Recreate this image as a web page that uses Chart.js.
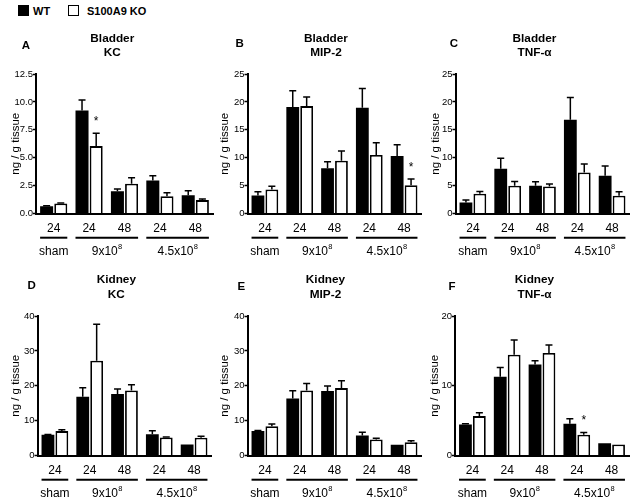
<!DOCTYPE html>
<html><head><meta charset="utf-8">
<script src="https://cdn.jsdelivr.net/npm/chart.js@4.4.1/dist/chart.umd.min.js"></script>
<style>
body{margin:0;background:#fff;}
#wrap{position:relative;width:634px;height:501px;overflow:hidden;font-family:"Liberation Sans",Arial,sans-serif;background:#fff;}
canvas{position:absolute;}
.lg-box{position:absolute;box-sizing:border-box;}
.lg-txt{position:absolute;font-weight:bold;font-size:11px;line-height:12px;color:#000;white-space:nowrap;}
</style></head><body>
<div id="wrap">
  <div class="lg-box" style="left:18px;top:5px;width:11px;height:11px;background:#000;"></div>
  <div class="lg-txt" id="lg0" style="left:33px;top:5px;"></div>
  <div class="lg-box" style="left:68px;top:5px;width:11px;height:11px;background:#fff;border:1.6px solid #000;"></div>
  <div class="lg-txt" id="lg1" style="left:87px;top:5px;"></div>
</div>
<script>
// ---------- shared categories ----------
const seriesNames = ['WT', 'S100A9 KO'];
const timeLabels = ['24', '24', '48', '24', '48'];
const groupLabels = ['sham', '9x10', '4.5x10'];
const groupSuper = ['', '8', '8'];
const groupOfCategory = [0, 1, 1, 2, 2];

// ---------- A: Bladder KC ----------
const bladderKC_WT = [0.66, 9.24, 2.0, 2.96, 1.64];
const bladderKC_WT_sem = [0.04, 0.93, 0.2, 0.42, 0.39];
const bladderKC_KO = [0.9, 6.04, 2.66, 1.55, 1.2];
const bladderKC_KO_sem = [0.05, 1.14, 0.54, 0.3, 0.1];
const bladderKC_KO_sig = [0, 1, 0, 0, 0];

// ---------- B: Bladder MIP-2 ----------
const bladderMIP_WT = [3.23, 19.1, 8.13, 18.96, 10.3];
const bladderMIP_WT_sem = [0.67, 2.9, 1.14, 3.44, 2.0];
const bladderMIP_KO = [4.3, 19.25, 9.45, 10.5, 5.08];
const bladderMIP_KO_sem = [0.6, 1.65, 1.75, 2.2, 1.12];
const bladderMIP_KO_sig = [0, 0, 0, 0, 1];

// ---------- C: Bladder TNF-α ----------
const bladderTNF_WT = [1.97, 8.0, 4.96, 16.8, 6.76];
const bladderTNF_WT_sem = [0.43, 1.9, 0.72, 4.0, 1.74];
const bladderTNF_KO = [3.53, 4.96, 4.84, 7.36, 3.17];
const bladderTNF_KO_sem = [0.42, 0.78, 0.46, 1.49, 0.73];
const bladderTNF_KO_sig = [0, 0, 0, 0, 0];

// ---------- D: Kidney KC ----------
const kidneyKC_WT = [5.93, 16.84, 17.6, 6.12, 3.16];
const kidneyKC_WT_sem = [0.07, 2.56, 1.5, 0.96, 0];
const kidneyKC_KO = [6.99, 27.2, 18.66, 5.17, 5.07];
const kidneyKC_KO_sem = [0.41, 10.4, 1.64, 0.13, 0.43];
const kidneyKC_KO_sig = [0, 0, 0, 0, 0];

// ---------- E: Kidney MIP-2 ----------
const kidneyMIP_WT = [6.99, 16.36, 18.47, 5.74, 3.06];
const kidneyMIP_WT_sem = [0.21, 2.2, 1.43, 0.96, 0];
const kidneyMIP_KO = [8.42, 18.66, 19.33, 4.6, 3.83];
const kidneyMIP_KO_sem = [0.58, 2.01, 2.07, 0.37, 0.37];
const kidneyMIP_KO_sig = [0, 0, 0, 0, 0];

// ---------- F: Kidney TNF-α ----------
const kidneyTNF_WT = [4.45, 11.29, 13.06, 4.55, 1.77];
const kidneyTNF_WT_sem = [0.1, 1.34, 0.53, 0.71, 0];
const kidneyTNF_KO = [5.65, 14.45, 14.69, 2.97, 1.58];
const kidneyTNF_KO_sem = [0.47, 2.11, 1.15, 0.33, 0];
const kidneyTNF_KO_sig = [0, 0, 0, 1, 0];

// ---------- y axes ----------
const yMaxA = 12.5, yStepA = 2.5;
const yMaxB = 25, yStepB = 5;
const yMaxC = 25, yStepC = 5;
const yMaxD = 40, yStepD = 10;
const yMaxE = 40, yStepE = 10;
const yMaxF = 20, yStepF = 10;

const yTitle = 'ng / g tissue';
const FONT = '"Liberation Sans", Arial, sans-serif';

document.getElementById('lg0').textContent = seriesNames[0];
document.getElementById('lg1').textContent = seriesNames[1];

const panels = [
  {letter:'A', title:['Bladder','KC'], wt:bladderKC_WT, wtSem:bladderKC_WT_sem, ko:bladderKC_KO, koSem:bladderKC_KO_sem, sig:bladderKC_KO_sig, yMax:yMaxA, yStep:yStepA, dec:1,
   canvas:{l:0,t:0,w:216,h:262}, area:{l:36,r:213,t:74,b:213.5}, yTitleX:16, titleX:112.3, titleY:[41.8,56.2], letterPos:[25.8,45.8]},
  {letter:'B', title:['Bladder','MIP-2'], wt:bladderMIP_WT, wtSem:bladderMIP_WT_sem, ko:bladderMIP_KO, koSem:bladderMIP_KO_sem, sig:bladderMIP_KO_sig, yMax:yMaxB, yStep:yStepB, dec:0,
   canvas:{l:212,t:0,w:216,h:262}, area:{l:247.5,r:421.5,t:74,b:213.5}, yTitleX:224.7, titleX:326, titleY:[41.8,56.2], letterPos:[239.7,43.5]},
  {letter:'C', title:['Bladder','TNF-\u03B1'], wt:bladderTNF_WT, wtSem:bladderTNF_WT_sem, ko:bladderTNF_KO, koSem:bladderTNF_KO_sem, sig:bladderTNF_KO_sig, yMax:yMaxC, yStep:yStepC, dec:0,
   canvas:{l:424,t:0,w:210,h:262}, area:{l:455.5,r:629.5,t:74,b:213.5}, yTitleX:435.5, titleX:534.5, titleY:[41.8,56.2], letterPos:[454,43.5]},
  {letter:'D', title:['Kidney','KC'], wt:kidneyKC_WT, wtSem:kidneyKC_WT_sem, ko:kidneyKC_KO, koSem:kidneyKC_KO_sem, sig:kidneyKC_KO_sig, yMax:yMaxD, yStep:yStepD, dec:0,
   canvas:{l:0,t:258,w:216,h:243}, area:{l:37.5,r:211.5,t:316,b:455.5}, yTitleX:15.5, titleX:116.3, titleY:[283,297.5], letterPos:[31.7,286]},
  {letter:'E', title:['Kidney','MIP-2'], wt:kidneyMIP_WT, wtSem:kidneyMIP_WT_sem, ko:kidneyMIP_KO, koSem:kidneyMIP_KO_sem, sig:kidneyMIP_KO_sig, yMax:yMaxE, yStep:yStepE, dec:0,
   canvas:{l:212,t:258,w:216,h:243}, area:{l:247.5,r:421.5,t:316,b:455.5}, yTitleX:224.7, titleX:325.5, titleY:[283,297.5], letterPos:[241.3,286.7]},
  {letter:'F', title:['Kidney','TNF-\u03B1'], wt:kidneyTNF_WT, wtSem:kidneyTNF_WT_sem, ko:kidneyTNF_KO, koSem:kidneyTNF_KO_sem, sig:kidneyTNF_KO_sig, yMax:yMaxF, yStep:yStepF, dec:0,
   canvas:{l:424,t:258,w:210,h:243}, area:{l:455,r:629,t:316,b:455.5}, yTitleX:435, titleX:534.5, titleY:[283,297.5], letterPos:[452,286.7]}
];

const decorPlugin = {
  id: 'decor',
  afterDatasetsDraw(chart, args, o) {
    const ctx = chart.ctx, y = chart.scales.y;
    ctx.save();
    ctx.strokeStyle = '#000';
    ctx.fillStyle = '#000';
    ctx.lineWidth = 1.5;
    chart.data.datasets.forEach((ds, di) => {
      const meta = chart.getDatasetMeta(di);
      meta.data.forEach((bar, i) => {
        const sem = ds.sem[i];
        const top = y.getPixelForValue(ds.data[i] + sem);
        if (sem > 0) {
          ctx.beginPath();
          ctx.moveTo(bar.x, bar.y);
          ctx.lineTo(bar.x, top);
          ctx.moveTo(bar.x - 3.5, top);
          ctx.lineTo(bar.x + 3.5, top);
          ctx.stroke();
        }
        if (ds.sig && ds.sig[i]) {
          ctx.font = '12px ' + FONT;
          ctx.textAlign = 'center';
          ctx.textBaseline = 'alphabetic';
          ctx.fillText('*', bar.x, top - 8.2);
        }
      });
    });
    ctx.restore();
  },
  afterDraw(chart, args, o) {
    const ctx = chart.ctx, area = chart.chartArea;
    ctx.save();
    ctx.fillStyle = '#000';
    ctx.strokeStyle = '#000';
    // group lines and labels
    const m0 = chart.getDatasetMeta(0), m1 = chart.getDatasetMeta(1);
    groupLabels.forEach((lab, g) => {
      const idx = groupOfCategory.map((gg, i) => gg === g ? i : -1).filter(i => i >= 0);
      const first = idx[0], last = idx[idx.length - 1];
      const x0 = m0.data[first].x - m0.data[first].width / 2;
      const x1 = m1.data[last].x + m1.data[last].width / 2;
      const ly = area.bottom + 24.2;
      ctx.lineWidth = 2;
      ctx.beginPath(); ctx.moveTo(x0, ly); ctx.lineTo(x1, ly); ctx.stroke();
      ctx.font = '12px ' + FONT;
      const w1 = ctx.measureText(lab).width;
      ctx.font = '7.5px ' + FONT;
      const w2 = groupSuper[g] ? ctx.measureText(groupSuper[g]).width : 0;
      const cx = (x0 + x1) / 2;
      const sx = cx - (w1 + w2) / 2;
      const by = area.bottom + 41.7;
      ctx.textAlign = 'left';
      ctx.textBaseline = 'alphabetic';
      ctx.font = '12px ' + FONT;
      ctx.fillText(lab, sx, by);
      if (groupSuper[g]) {
        ctx.font = '7.5px ' + FONT;
        ctx.fillText(groupSuper[g], sx + w1 + 0.3, by - 6.5);
      }
    });
    // panel title
    ctx.font = 'bold 11.8px ' + FONT;
    ctx.textAlign = 'center';
    ctx.textBaseline = 'alphabetic';
    o.title.forEach((t, i) => ctx.fillText(t, o.titleX, o.titleY[i]));
    // panel letter
    ctx.font = 'bold 11.5px ' + FONT;
    ctx.textBaseline = 'middle';
    ctx.fillText(o.letter, o.letterX, o.letterY);
    ctx.restore();
  }
};

const wrap = document.getElementById('wrap');
panels.forEach(p => {
  const cv = document.createElement('canvas');
  cv.width = p.canvas.w; cv.height = p.canvas.h;
  cv.style.left = p.canvas.l + 'px'; cv.style.top = p.canvas.t + 'px';
  cv.style.width = p.canvas.w + 'px'; cv.style.height = p.canvas.h + 'px';
  wrap.appendChild(cv);
  const yw = p.area.l - p.canvas.l;
  const pr = p.canvas.l + p.canvas.w - p.area.r;
  const pt = p.area.t - p.canvas.t;
  const xh = p.canvas.t + p.canvas.h - p.area.b;
  const yTitleLH = 11.5 * 1.2;
  new Chart(cv, {
    type: 'bar',
    data: {
      labels: timeLabels,
      datasets: [
        {label: seriesNames[0], data: p.wt, sem: p.wtSem, backgroundColor: '#000', borderWidth: 0,
         categoryPercentage: 0.8, barPercentage: 0.92},
        {label: seriesNames[1], data: p.ko, sem: p.koSem, sig: p.sig, backgroundColor: '#fff', borderColor: '#000', borderWidth: 1.8,
         borderSkipped: 'bottom', categoryPercentage: 0.8, barPercentage: 0.92}
      ]
    },
    options: {
      responsive: false,
      animation: false,
      events: [],
      devicePixelRatio: 1,
      layout: {padding: {left: 0, right: pr, top: pt, bottom: 0}},
      plugins: {
        legend: {display: false},
        tooltip: {enabled: false},
        title: {display: false},
        decor: {title: p.title, titleX: p.titleX - p.canvas.l, titleY: p.titleY.map(v => v - p.canvas.t),
                letter: p.letter, letterX: p.letterPos[0] - p.canvas.l, letterY: p.letterPos[1] - p.canvas.t}
      },
      scales: {
        x: {
          type: 'category',
          offset: true,
          grid: {display: false, drawTicks: false},
          border: {display: true, color: '#000', width: 2},
          ticks: {font: {family: FONT, size: 12}, color: '#000', padding: 8, autoSkip: false, maxRotation: 0, minRotation: 0},
          afterFit: s => { s.height = xh; }
        },
        y: {
          min: 0, max: p.yMax,
          grid: {display: true, drawOnChartArea: false, drawTicks: true, tickLength: 3, tickWidth: 1.5, tickColor: '#000'},
          border: {display: true, color: '#000', width: 2},
          ticks: {stepSize: p.yStep, font: {family: FONT, size: 9.5}, color: '#000', padding: 0,
                  callback: v => Number(v).toFixed(p.dec)},
          title: {display: true, text: yTitle, color: '#000', font: {family: FONT, size: 11.5, lineHeight: 1.2},
                  padding: {top: p.yTitleX - p.canvas.l - yTitleLH / 2, bottom: 0}},
          afterFit: s => { s.width = yw; }
        }
      }
    },
    plugins: [decorPlugin]
  });
});
</script>
</body></html>
